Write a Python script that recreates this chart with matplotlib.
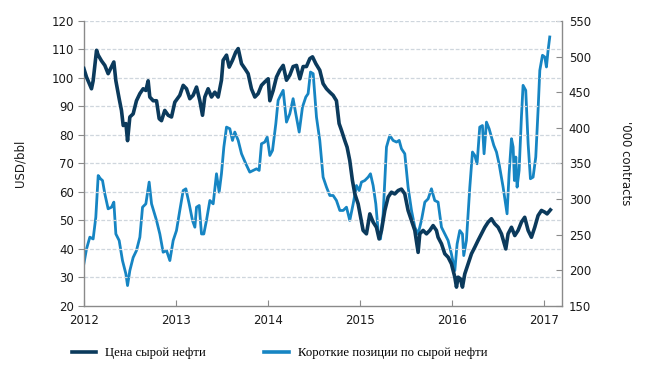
import matplotlib
matplotlib.use("Agg")
import matplotlib.pyplot as plt
from matplotlib.lines import Line2D

# Цена сырой нефти (USD/bbl), по десятичным годам
price_x = [2012.000, 2012.029, 2012.083, 2012.101, 2012.138, 2012.156, 2012.192, 2012.228,
           2012.264, 2012.301, 2012.326, 2012.348, 2012.384, 2012.409, 2012.428, 2012.457,
           2012.475, 2012.500, 2012.536, 2012.572, 2012.609, 2012.645, 2012.674, 2012.699,
           2012.717, 2012.754, 2012.790, 2012.819, 2012.844, 2012.880, 2012.917, 2012.953,
           2012.989, 2013.043, 2013.080, 2013.116, 2013.152, 2013.188, 2013.225, 2013.261,
           2013.290, 2013.315, 2013.351, 2013.388, 2013.424, 2013.460, 2013.496, 2013.514,
           2013.551, 2013.580, 2013.616, 2013.652, 2013.678, 2013.714, 2013.750, 2013.786,
           2013.822, 2013.859, 2013.895, 2013.931, 2013.967, 2014.004, 2014.022, 2014.058,
           2014.094, 2014.130, 2014.167, 2014.203, 2014.239, 2014.275, 2014.312, 2014.348,
           2014.384, 2014.420, 2014.457, 2014.486, 2014.522, 2014.565, 2014.601, 2014.638,
           2014.674, 2014.710, 2014.746, 2014.775, 2014.801, 2014.837, 2014.862, 2014.891,
           2014.920, 2014.946, 2014.982, 2015.036, 2015.072, 2015.109, 2015.145, 2015.181,
           2015.210, 2015.236, 2015.272, 2015.308, 2015.344, 2015.380, 2015.417, 2015.453,
           2015.489, 2015.525, 2015.562, 2015.598, 2015.634, 2015.652, 2015.688, 2015.725,
           2015.761, 2015.797, 2015.833, 2015.851, 2015.888, 2015.924, 2015.960, 2015.996,
           2016.033, 2016.051, 2016.069, 2016.094, 2016.116, 2016.141, 2016.178, 2016.214,
           2016.250, 2016.286, 2016.322, 2016.359, 2016.395, 2016.431, 2016.467, 2016.504,
           2016.540, 2016.587, 2016.612, 2016.649, 2016.685, 2016.721, 2016.757, 2016.793,
           2016.830, 2016.866, 2016.902, 2016.938, 2016.975, 2017.011, 2017.036, 2017.072]
price_y = [103.3, 100.3, 96.2, 99.0, 109.7, 108.0, 106.0, 104.4,
           101.5, 104.0, 105.6, 99.0, 92.7, 88.6, 83.3, 84.0,
           78.0, 86.3, 87.4, 92.0, 94.5, 96.2, 95.6, 99.0,
           93.3, 92.0, 92.0, 85.7, 85.0, 88.6, 86.9, 86.3,
           91.5, 93.9, 97.4, 96.2, 92.7, 93.9, 96.8, 92.0,
           86.9, 93.3, 96.2, 93.3, 95.0, 93.3, 99.2, 106.2,
           108.0, 103.8, 106.2, 109.1, 110.3, 105.0, 103.3, 101.5,
           96.2, 93.3, 94.5, 97.4, 98.6, 99.7, 92.0, 95.6,
           100.3, 102.7, 104.4, 99.2, 101.0, 104.0, 104.4, 99.7,
           104.0, 104.0, 106.8, 107.4, 105.0, 102.7, 98.0, 96.2,
           95.0, 93.9, 92.0, 84.0, 81.6, 78.0, 75.7, 71.0,
           64.0, 59.3, 55.8, 46.5, 45.3, 52.3, 49.4, 47.6,
           43.5, 46.5, 53.5, 58.2, 59.9, 59.3, 60.5, 61.0,
           59.3, 53.5, 50.0, 46.5, 38.8, 45.3, 46.5, 45.3,
           46.5, 48.2, 46.5, 44.1, 41.8, 38.3, 37.1, 34.8,
           30.1, 26.6, 30.1, 29.5, 26.6, 31.2, 34.8, 38.3,
           40.6, 43.0, 45.3, 47.6, 49.4, 50.6, 48.8, 47.6,
           45.3, 40.0, 45.3, 47.6, 44.7, 46.5, 49.4, 51.1,
           46.5, 44.1, 47.6, 51.7, 53.5, 52.9, 52.3, 53.7]

# Короткие позиции по сырой нефти ('000 contracts)
short_x = [2012.000, 2012.029, 2012.065, 2012.101, 2012.130, 2012.156, 2012.181, 2012.203,
           2012.228, 2012.264, 2012.301, 2012.326, 2012.348, 2012.384, 2012.420, 2012.457,
           2012.475, 2012.500, 2012.536, 2012.572, 2012.609, 2012.638, 2012.674, 2012.710,
           2012.736, 2012.790, 2012.826, 2012.862, 2012.899, 2012.935, 2012.971, 2013.007,
           2013.043, 2013.080, 2013.109, 2013.145, 2013.181, 2013.207, 2013.225, 2013.254,
           2013.279, 2013.304, 2013.333, 2013.370, 2013.406, 2013.442, 2013.471, 2013.496,
           2013.522, 2013.551, 2013.587, 2013.616, 2013.641, 2013.678, 2013.714, 2013.761,
           2013.804, 2013.841, 2013.877, 2013.906, 2013.931, 2013.967, 2013.993, 2014.022,
           2014.051, 2014.087, 2014.112, 2014.138, 2014.167, 2014.203, 2014.239, 2014.275,
           2014.304, 2014.341, 2014.377, 2014.413, 2014.438, 2014.464, 2014.493, 2014.529,
           2014.565, 2014.601, 2014.638, 2014.674, 2014.710, 2014.746, 2014.783, 2014.819,
           2014.855, 2014.891, 2014.928, 2014.964, 2014.993, 2015.018, 2015.054, 2015.091,
           2015.116, 2015.145, 2015.174, 2015.199, 2015.225, 2015.254, 2015.290, 2015.326,
           2015.362, 2015.399, 2015.428, 2015.453, 2015.489, 2015.525, 2015.562, 2015.598,
           2015.634, 2015.670, 2015.707, 2015.743, 2015.779, 2015.815, 2015.851, 2015.888,
           2015.924, 2015.960, 2015.996, 2016.033, 2016.058, 2016.087, 2016.116, 2016.130,
           2016.159, 2016.196, 2016.225, 2016.250, 2016.275, 2016.304, 2016.333, 2016.351,
           2016.377, 2016.406, 2016.431, 2016.457, 2016.486, 2016.514, 2016.558, 2016.601,
           2016.623, 2016.649, 2016.667, 2016.681, 2016.696, 2016.710, 2016.732, 2016.757,
           2016.775, 2016.804, 2016.830, 2016.855, 2016.884, 2016.913, 2016.938, 2016.957,
           2016.986, 2017.011, 2017.029, 2017.047, 2017.065]
short_y = [209, 230, 246.5, 244, 274.6, 333, 328.5, 326,
           307.4, 286.3, 288.6, 295.7, 251, 241.8, 213.7, 195,
           178.6, 199.6, 218, 227.7, 246.5, 288.6, 293.3, 323.8,
           293.3, 270, 251, 225.4, 227.7, 213.7, 241.8, 255.8,
           284, 312, 314.4, 293.3, 270, 260.5, 288.6, 291,
           251, 251, 270, 298, 293.3, 335.5, 309.7, 335.5,
           373, 401, 398.7, 382.3, 394, 382.3, 363.6, 349.5,
           337.8, 340.2, 342.5, 340.2, 377.6, 380, 387, 361.2,
           368.3, 405.7, 438.5, 445.5, 452.6, 408, 419.8, 440.9,
           419.8, 394, 429.2, 443.2, 447.9, 478.3, 476, 415,
           382.3, 330.8, 316.7, 305, 305, 298, 284, 284,
           288.6, 270, 293.3, 319, 312, 323.8, 326, 330.8,
           335.5, 319, 293.3, 255.8, 244, 279.3, 373, 389.3,
           382.3, 380, 382.3, 370.6, 363.6, 316.7, 284, 260.5,
           251, 270, 295.7, 300.3, 314.4, 298, 295.7, 260.5,
           251, 241.8, 223, 199.6, 237, 255.8, 251, 220.7,
           241.8, 316.7, 366, 361.2, 349.5, 401, 403.2, 363.6,
           408, 398.7, 387, 375.3, 366, 349.5, 316.7, 279.3,
           335.5, 384.7, 373, 326, 359, 316.7, 340.2, 415,
           459.6, 452.6, 377.6, 328.5, 330.8, 359, 424.5, 480.7,
           501.8, 499.4, 485.4, 508.8, 527.5]

years = [2012, 2013, 2014, 2015, 2016, 2017]
left_ticks = list(range(20, 121, 10))
right_ticks = list(range(150, 551, 50))

dark = "#0b3a5c"
light = "#1685c3"
axis_col = "#8a8a8a"
txt = "#1a1a1a"

fig = plt.figure(figsize=(6.45, 3.74), dpi=100)
ax = fig.add_axes([0.130, 0.182, 0.741, 0.762])
ax2 = ax.twinx()

ax.plot(price_x, price_y, color=dark, lw=2.6, zorder=3)
ax2.plot(short_x, short_y, color=light, lw=2.0, zorder=2)

# тёмная линия поверх светлой
ax.set_zorder(ax2.get_zorder() + 1)
ax.patch.set_visible(False)

ax.set_xlim(2012, 2017.196)
ax.set_ylim(20, 120)
ax2.set_ylim(150, 550)
ax.set_xticks(years)
ax.set_yticks(left_ticks)
ax2.set_yticks(right_ticks)

for t in left_ticks[1:]:
    ax.axhline(t, color="#cfd6dd", lw=0.9, ls=(0, (3, 1.5)), zorder=0)

for a in (ax, ax2):
    a.spines["top"].set_visible(False)
    for s in ("left", "right", "bottom"):
        a.spines[s].set_color(axis_col)
        a.spines[s].set_linewidth(1.0)
ax.spines["right"].set_visible(False)
ax2.spines["left"].set_visible(False)
ax2.spines["bottom"].set_visible(False)

ax.tick_params(axis="y", direction="out", length=4, color=axis_col, labelsize=8.5,
               labelcolor=txt, pad=3)
ax.tick_params(axis="x", direction="in", length=4, color=axis_col, labelsize=8.5,
               labelcolor=txt, pad=6)
ax2.tick_params(axis="y", direction="in", length=4, color=axis_col, labelsize=8.5,
                labelcolor=txt, pad=5)

ax.set_ylabel("USD/bbl", fontsize=8.5, color=txt, labelpad=18)
ax2.set_ylabel("'000 contracts", fontsize=8.5, color=txt, rotation=-90, labelpad=20,
               va="bottom")

handles = [Line2D([], [], color=dark, lw=2.6), Line2D([], [], color=light, lw=2.6)]
labels = ["Цена сырой нефти", "Короткие позиции по сырой нефти"]
fig.legend(handles, labels, loc="center", bbox_to_anchor=(0.433, 0.056), ncol=2,
           frameon=False, handlelength=1.9, columnspacing=4.6, handletextpad=0.7,
           prop={"family": "Liberation Serif", "size": 9.2})

fig.savefig("out.png", dpi=100)
